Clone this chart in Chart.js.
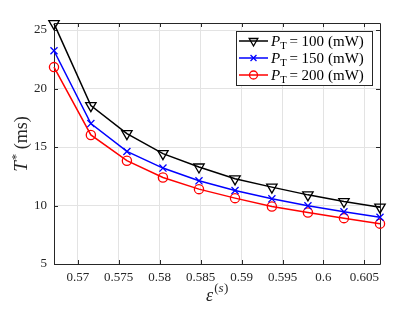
<!DOCTYPE html>
<html><head><meta charset="utf-8">
<script src="https://cdn.jsdelivr.net/npm/chart.js@4/dist/chart.umd.min.js"></script>
<style>html,body{margin:0;padding:0;background:#fff;}#wrap{width:420px;height:315px;position:relative;}</style>
</head><body><div id="wrap"><canvas id="c" width="420" height="315"></canvas></div>
<script>
// Data
const epsilonValues = [0.5671, 0.5716, 0.5760, 0.5804, 0.5848, 0.5892, 0.5937, 0.5981, 0.6025, 0.6069];
const tP100 = [25.55, 18.54, 16.14, 14.43, 13.29, 12.28, 11.57, 10.91, 10.34, 9.86];
const tP150 = [23.23, 17.00, 14.62, 13.20, 12.11, 11.28, 10.57, 9.97, 9.46, 9.00];
const tP200 = [21.83, 16.03, 13.83, 12.40, 11.40, 10.63, 9.91, 9.40, 8.92, 8.45];
const powerLabels = ['100', '150', '200'];
const xTickValues = [0.57, 0.575, 0.58, 0.585, 0.59, 0.595, 0.6, 0.605];
const xTickLabels = ['0.57', '0.575', '0.58', '0.585', '0.59', '0.595', '0.6', '0.605'];
const yTickValues = [5, 10, 15, 20, 25];
const yTickLabels = ['5', '10', '15', '20', '25'];

const SERIF = '"Liberation Serif", "DejaVu Serif", serif';
const AXIS = '#262626';
const styles = [
  {color: '#000000', marker: 'triangle', rot: 180, r: 6},
  {color: '#0000ff', marker: 'crossRot', rot: 0, r: 5},
  {color: '#ff0000', marker: 'circle', rot: 0, r: 4.6}
];
const seriesValues = [tP100, tP150, tP200];

const datasets = seriesValues.map((vals, i) => ({
  label: 'P_T = ' + powerLabels[i] + ' (mW)',
  data: epsilonValues.map((x, j) => ({x: x, y: vals[j]})),
  borderColor: styles[i].color,
  backgroundColor: 'rgba(0,0,0,0)',
  borderWidth: 1.5,
  pointStyle: styles[i].marker,
  pointRotation: styles[i].rot,
  pointRadius: styles[i].r,
  pointBorderWidth: 1.3,
  pointBorderColor: styles[i].color,
  pointBackgroundColor: 'rgba(0,0,0,0)',
  tension: 0,
  fill: false,
  clip: false
}));

function drawMarker(ctx, style, x, y) {
  ctx.save();
  ctx.strokeStyle = style.color;
  ctx.lineWidth = 1.3;
  ctx.beginPath();
  const r = style.r;
  if (style.marker === 'triangle') {
    let rad = style.rot * Math.PI / 180;
    for (let k = 0; k < 3; k++) {
      const px = x + Math.sin(rad) * r, py = y - Math.cos(rad) * r;
      if (k === 0) ctx.moveTo(px, py); else ctx.lineTo(px, py);
      rad += 2 * Math.PI / 3;
    }
    ctx.closePath();
  } else if (style.marker === 'crossRot') {
    const d = r * Math.SQRT1_2;
    ctx.moveTo(x - d, y - d); ctx.lineTo(x + d, y + d);
    ctx.moveTo(x + d, y - d); ctx.lineTo(x - d, y + d);
  } else {
    ctx.arc(x, y, r, 0, Math.PI * 2);
  }
  ctx.stroke();
  ctx.restore();
}

const framePlugin = {
  id: 'frame',
  beforeDatasetsDraw(chart) {
    const ctx = chart.ctx;
    const a = chart.chartArea;
    const xs = chart.scales.x, ys = chart.scales.y;
    ctx.save();
    ctx.strokeStyle = AXIS;
    ctx.lineWidth = 1;
    ctx.beginPath();
    ctx.rect(Math.round(a.left) + 0.5, Math.round(a.top) + 0.5, Math.round(a.right - a.left), Math.round(a.bottom - a.top));
    ctx.stroke();
    const tl = 4;
    ctx.beginPath();
    xTickValues.forEach(v => {
      const px = Math.round(xs.getPixelForValue(v)) + 0.5;
      ctx.moveTo(px, a.bottom); ctx.lineTo(px, a.bottom - tl);
      ctx.moveTo(px, a.top); ctx.lineTo(px, a.top + tl);
    });
    yTickValues.forEach(v => {
      const py = Math.round(ys.getPixelForValue(v)) + 0.5;
      ctx.moveTo(a.left, py); ctx.lineTo(a.left + tl, py);
      ctx.moveTo(a.right, py); ctx.lineTo(a.right - tl, py);
    });
    ctx.stroke();
    ctx.restore();
  },
  afterDraw(chart) {
    const ctx = chart.ctx;
    ctx.save();
    // y axis title: T^* (ms)
    ctx.fillStyle = AXIS;
    ctx.textBaseline = 'alphabetic';
    ctx.save();
    ctx.translate(27, 144);
    ctx.rotate(-Math.PI / 2);
    const fMain = '18px ' + SERIF, fIt = 'italic 19px ' + SERIF, fSup = '13px ' + SERIF;
    ctx.font = fIt; const wT = ctx.measureText('T').width;
    ctx.font = fSup; const wS = ctx.measureText('*').width;
    ctx.font = fMain; const wR = ctx.measureText(' (ms)').width;
    let x0 = -(wT + wS + 1 + wR) / 2;
    ctx.font = fIt; ctx.fillText('T', x0, 0); x0 += wT + 1;
    ctx.font = fSup; ctx.fillText('*', x0, -7); x0 += wS;
    ctx.font = fMain; ctx.fillText(' (ms)', x0, 0);
    ctx.restore();

    // x axis title: epsilon^(s)
    ctx.save();
    const fE = 'italic 18px ' + SERIF, fP = '13px ' + SERIF, fPs = 'italic 13px ' + SERIF;
    ctx.font = fE; const wE = ctx.measureText('\u03B5').width;
    ctx.font = fP; const wp = ctx.measureText('(').width, wq = ctx.measureText(')').width;
    ctx.font = fPs; const ws = ctx.measureText('s').width;
    let xx = 217 - (wE + 1 + wp + ws + wq) / 2;
    const by = 301;
    ctx.font = fE; ctx.fillText('\u03B5', xx, by); xx += wE + 1;
    ctx.font = fP; ctx.fillText('(', xx, by - 9); xx += wp;
    ctx.font = fPs; ctx.fillText('s', xx, by - 9); xx += ws + 0.5;
    ctx.font = fP; ctx.fillText(')', xx, by - 9);
    ctx.restore();

    // legend
    const lx = 236.5, ly = 31.5, lw = 136, lh = 54;
    ctx.fillStyle = '#ffffff';
    ctx.fillRect(lx, ly, lw, lh);
    ctx.strokeStyle = AXIS;
    ctx.lineWidth = 1;
    ctx.strokeRect(lx, ly, lw, lh);
    const rows = [41, 58, 75];
    styles.forEach((s, i) => {
      const y = rows[i];
      ctx.strokeStyle = s.color;
      ctx.lineWidth = 1.5;
      ctx.beginPath();
      ctx.moveTo(239, y); ctx.lineTo(268, y);
      ctx.stroke();
      drawMarker(ctx, {color: s.color, marker: s.marker, rot: s.rot, r: s.marker === 'triangle' ? 5 : (s.marker === 'circle' ? 4 : 4.2)}, 253.5, y);
      ctx.fillStyle = '#000000';
      let tx = 271;
      const base = y + 5;
      ctx.font = 'italic 15px ' + SERIF; ctx.fillText('P', tx, base); tx += ctx.measureText('P').width;
      ctx.font = '10.5px ' + SERIF; ctx.fillText('T', tx, base + 3); tx += ctx.measureText('T').width + 3;
      ctx.font = '15px ' + SERIF;
      ctx.fillText('=', tx, base); tx += ctx.measureText('=').width + 3.5;
      ctx.fillText(powerLabels[i], tx, base); tx += ctx.measureText(powerLabels[i]).width + 4;
      ctx.fillText('(mW)', tx, base);
    });
    ctx.restore();
  }
};

new Chart(document.getElementById('c'), {
  type: 'line',
  data: {datasets: datasets},
  plugins: [framePlugin],
  options: {
    responsive: false,
    animation: false,
    devicePixelRatio: 1,
    layout: {padding: {left: 0, right: 40, top: 23, bottom: 0}},
    plugins: {legend: {display: false}, tooltip: {enabled: false}},
    scales: {
      x: {
        type: 'linear',
        min: epsilonValues[0],
        max: epsilonValues[epsilonValues.length - 1],
        afterBuildTicks: s => { s.ticks = xTickValues.map(v => ({value: v})); },
        afterFit: s => { s.height = 51; },
        ticks: {
          callback: (v, i) => xTickLabels[i],
          font: {family: SERIF, size: 13},
          color: AXIS,
          padding: 6,
          maxRotation: 0,
          autoSkip: false
        },
        grid: {color: '#e3e3e3', drawTicks: false, lineWidth: 1},
        border: {display: false}
      },
      y: {
        type: 'linear',
        min: 5,
        max: 25.6,
        afterBuildTicks: s => { s.ticks = yTickValues.map(v => ({value: v})); },
        afterFit: s => { s.width = 54; },
        ticks: {
          callback: (v, i) => yTickLabels[i],
          font: {family: SERIF, size: 13},
          color: AXIS,
          padding: 7
        },
        grid: {color: '#e3e3e3', drawTicks: false, lineWidth: 1},
        border: {display: false}
      }
    }
  }
});
</script></body></html>
